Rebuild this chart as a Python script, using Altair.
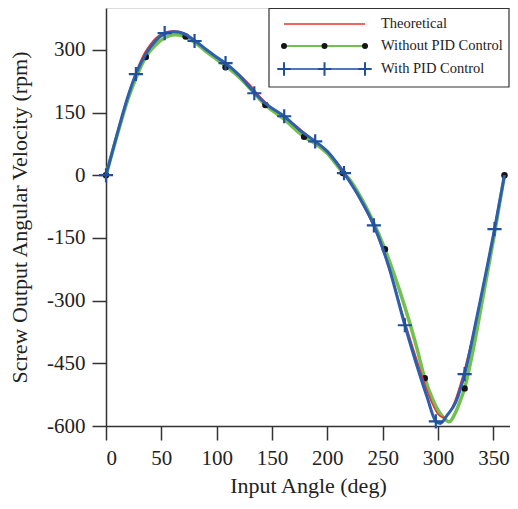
import altair as alt
import pandas as pd

# ---------------- data ----------------
theo_deg = [0, 5, 10, 15, 20, 25, 30, 35, 40, 45, 50, 55, 60, 65, 70, 75, 80, 90, 100, 110,
            120, 130, 140, 150, 160, 170, 180, 190, 200, 210, 220, 230, 240, 250, 260, 270,
            280, 290, 295, 300, 305, 310, 315, 320, 330, 340, 350, 360]
theo_val = [0, 50, 100, 147, 190, 230, 265, 293, 313, 328, 338, 343, 345, 344, 340, 333, 324, 303, 283, 264,
            242, 216, 185, 160, 142, 122, 100, 78, 55, 27, -12, -60, -112, -178, -258, -350,
            -435, -515, -548, -572, -580, -568, -542, -502, -400, -275, -140, 0]

nopid_deg = [0, 10, 20, 27, 36, 45, 54, 62, 70, 80, 90, 100, 110, 120, 130, 144, 160, 179, 190,
             200, 214, 220, 230, 240, 252, 260, 270, 280, 288, 295, 300, 305, 310, 315, 320, 324,
             330, 340, 350, 360]
nopid_val = [0, 95, 183, 232, 283, 312, 330, 336, 333, 318, 297, 277, 257, 235, 208, 168, 136, 92, 74,
             52, 6, -10, -52, -103, -177, -235, -315, -405, -486, -535, -562, -580, -590, -572, -540, -510,
             -440, -300, -155, 0]

pid_deg = [0, 10, 20, 27, 36, 45, 53, 62, 70, 80, 90, 100, 108, 120, 134, 144, 161, 175, 189,
           200, 215, 230, 242, 255, 270, 280, 290, 298, 302, 308, 316, 324, 335, 351, 360]
pid_val = [0, 98, 190, 242, 290, 322, 338, 343, 339, 322, 302, 282, 268, 240, 198, 172, 141, 108, 81,
           57, 5, -58, -120, -215, -359, -448, -530, -589, -594, -575, -543, -476, -340, -129, 0]

# marker positions
dot_deg = [0, 36, 72, 108, 144, 179, 214, 252, 288, 324, 360]
dot_val = [0, 283, 332, 258, 168, 92, 5, -177, -486, -510, 0]

plus_deg = [0, 27, 53, 80, 108, 134, 161, 189, 215, 242, 270, 298, 324, 351]
plus_val = [0, 242, 340, 321, 268, 196, 141, 81, 5, -120, -359, -589, -476, -129]

legend_labels = ["Theoretical", "Without PID Control", "With PID Control"]

# ---------------- styling ----------------
FONT = "Liberation Serif"
RED = "#e8322d"
GREEN = "#72c050"
BLUE = "#2d5fae"
BLUE_MK = "#1f4f9e"
AXC = "#333333"
PLUS = "M -1 0 L 1 0 M 0 -1 L 0 1"

W, H = 404, 418
xdom = [0, 365]
ydom = [-600, 400]

xs = alt.Scale(domain=xdom, nice=False, zero=False)
ys = alt.Scale(domain=ydom, nice=False, zero=False)

x_axis = alt.Axis(
    title="Input Angle (deg)",
    values=list(range(0, 351, 25)),
    labelExpr="datum.value % 50 === 0 ? '' + datum.value : ''",
    tickSize={"condition": {"test": "datum.value % 50 === 0", "value": 14}, "value": 7},
    grid=False, domainColor=AXC, domainWidth=1.5, tickColor=AXC, tickWidth=1.5,
    labelFont=FONT, labelFontSize=21, labelColor="#222", labelPadding=7,
    titleFont=FONT, titleFontSize=22, titleFontWeight="normal", titleColor="#222", titlePadding=7,
)
y_axis = alt.Axis(
    title="Screw Output Angular Velocity (rpm)",
    values=list(range(-600, 376, 75)),
    labelExpr="datum.value % 150 === 0 ? '' + datum.value : ''",
    tickSize=14,
    grid=False, domainColor=AXC, domainWidth=1.5, tickColor=AXC, tickWidth=1.5,
    labelFont=FONT, labelFontSize=21, labelColor="#222", labelPadding=7,
    titleFont=FONT, titleFontSize=22, titleFontWeight="normal", titleColor="#222", titlePadding=15,
)

theo_df = pd.DataFrame({"deg": theo_deg, "val": theo_val})
nopid_df = pd.DataFrame({"deg": nopid_deg, "val": nopid_val})
pid_df = pd.DataFrame({"deg": pid_deg, "val": pid_val})
dot_df = pd.DataFrame({"deg": dot_deg, "val": dot_val})
plus_df = pd.DataFrame({"deg": plus_deg, "val": plus_val})

green_line = alt.Chart(nopid_df).mark_line(color=GREEN, strokeWidth=3.5, interpolate="monotone").encode(
    x=alt.X("deg:Q", scale=xs, axis=x_axis),
    y=alt.Y("val:Q", scale=ys, axis=y_axis),
)
dots = alt.Chart(dot_df).mark_point(shape="circle", filled=True, color="#151515", size=42, opacity=1).encode(
    x=alt.X("deg:Q", scale=xs), y=alt.Y("val:Q", scale=ys)
)
red_line = alt.Chart(theo_df).mark_line(color=RED, strokeWidth=1.6, interpolate="monotone").encode(
    x=alt.X("deg:Q", scale=xs), y=alt.Y("val:Q", scale=ys)
)
blue_line = alt.Chart(pid_df).mark_line(color=BLUE, strokeWidth=3, interpolate="monotone").encode(
    x=alt.X("deg:Q", scale=xs), y=alt.Y("val:Q", scale=ys)
)
pluses = alt.Chart(plus_df).mark_point(shape=PLUS, filled=False, color=BLUE_MK, strokeWidth=2.2,
                                       size=200, opacity=1).encode(
    x=alt.X("deg:Q", scale=xs), y=alt.Y("val:Q", scale=ys)
)

# ---------------- legend (drawn in pixel space of the plot) ----------------
leg_df = pd.DataFrame({"k": [0]})
box = alt.Chart(leg_df).mark_rect(fill="white", stroke="#333", strokeWidth=1.2).encode(
    x=alt.value(163), x2=alt.value(403), y=alt.value(0.5), y2=alt.value(79)
)
rows_y = [16, 38, 61]
lx0, lx1, ltx = 178, 259, 275
leg_red = alt.Chart(leg_df).mark_rule(color=RED, strokeWidth=1.5).encode(
    x=alt.value(lx0), x2=alt.value(lx1), y=alt.value(rows_y[0]))
leg_green = alt.Chart(leg_df).mark_rule(color=GREEN, strokeWidth=2).encode(
    x=alt.value(lx0), x2=alt.value(lx1), y=alt.value(rows_y[1]))
leg_blue = alt.Chart(leg_df).mark_rule(color="#4a79c0", strokeWidth=2).encode(
    x=alt.value(lx0), x2=alt.value(lx1), y=alt.value(rows_y[2]))
leg_dots = alt.layer(*[
    alt.Chart(leg_df).mark_point(shape="circle", filled=True, color="#151515", size=36, opacity=1).encode(
        x=alt.value(px), y=alt.value(rows_y[1])) for px in (lx0, (lx0 + lx1) / 2, lx1)
])
leg_plus = alt.layer(*[
    alt.Chart(leg_df).mark_point(shape=PLUS, filled=False, color=BLUE_MK, strokeWidth=2, size=180, opacity=1).encode(
        x=alt.value(px), y=alt.value(rows_y[2])) for px in (lx0, (lx0 + lx1) / 2, lx1)
])
leg_text = alt.layer(*[
    alt.Chart(leg_df).mark_text(text=lab, align="left", baseline="middle", font=FONT, fontSize=14.5,
                                color="#222").encode(x=alt.value(ltx), y=alt.value(ry))
    for lab, ry in zip(legend_labels, rows_y)
])

chart = alt.layer(
    green_line, dots, red_line, blue_line, pluses,
    box, leg_red, leg_green, leg_blue, leg_dots, leg_plus, leg_text,
).properties(
    width=W, height=H,
    autosize=alt.AutoSizeParams(type="none"),
    padding={"left": 98, "top": 0, "right": 0, "bottom": 75},
).configure_view(stroke=None).configure(background="white")

chart.save("out.html", embed_options={"renderer": "svg", "actions": False})
